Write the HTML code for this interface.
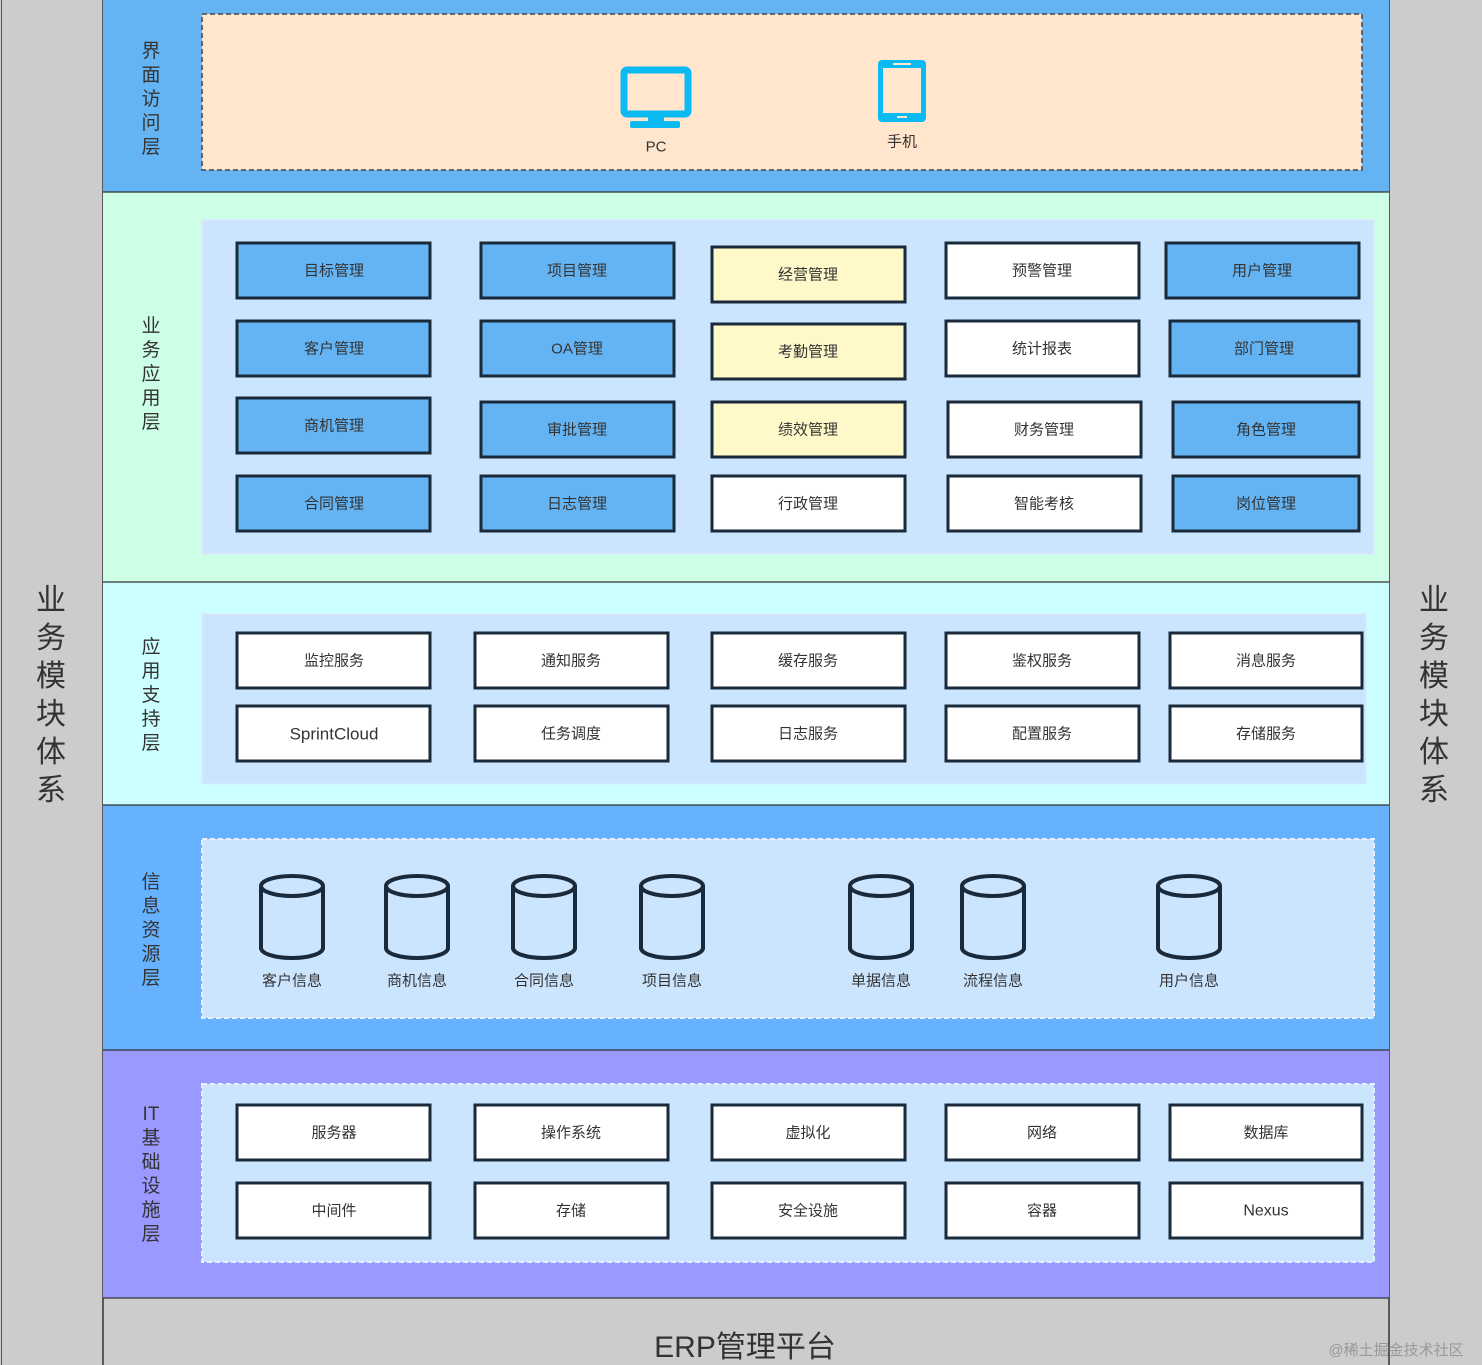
<!DOCTYPE html>
<html><head><meta charset="utf-8"><style>
html,body{margin:0;padding:0;background:#cccccc;}
svg{display:block;}
text{font-family:"Liberation Sans","Noto Sans CJK SC",sans-serif;fill:#333;}
.b{stroke:#1a2a3a;stroke-width:3;}
.t{font-size:15px;text-anchor:middle;dominant-baseline:central;}
.v{font-size:19px;text-anchor:middle;fill:#333;}
.s{font-size:30px;text-anchor:middle;fill:#333;}
.c{fill:#cce5ff;stroke:#1a2a3a;stroke-width:4;}
</style></head><body>
<svg width="1482" height="1365" viewBox="0 0 1482 1365" xmlns="http://www.w3.org/2000/svg">
<rect x="0" y="0" width="1482" height="1365" fill="#cccccc"/>
<line x1="1.5" y1="0" x2="1.5" y2="1365" stroke="#555" stroke-width="1"/>
<line x1="103" y1="0" x2="103" y2="1365" stroke="#333" stroke-width="1.5"/>
<line x1="1389" y1="0" x2="1389" y2="1365" stroke="#333" stroke-width="1.5"/>
<!-- layers -->
<rect x="103" y="0" width="1286" height="192" fill="#64b4f4"/>
<rect x="103" y="192" width="1286" height="390" fill="#ccffe6"/>
<rect x="103" y="582" width="1286" height="223" fill="#ccffff"/>
<rect x="103" y="805" width="1286" height="245" fill="#66b2ff"/>
<rect x="103" y="1050" width="1286" height="248" fill="#9999ff"/>
<g stroke="#333" stroke-width="1.2">
<line x1="103" y1="192" x2="1389" y2="192"/><line x1="103" y1="582" x2="1389" y2="582"/>
<line x1="103" y1="805" x2="1389" y2="805"/><line x1="103" y1="1050" x2="1389" y2="1050"/>
<line x1="103" y1="1298" x2="1389" y2="1298"/></g>
<!-- inner boxes -->
<rect x="202" y="14" width="1160" height="156" fill="#ffe6cc" stroke="#444" stroke-width="1.5" stroke-dasharray="5,3"/>
<rect x="202" y="220" width="1172" height="334" fill="#cce5ff" stroke="#dce9ff" stroke-width="2" stroke-dasharray="5,3"/>
<rect x="202" y="614" width="1164" height="170" fill="#cce5ff" stroke="#dce9ff" stroke-width="2" stroke-dasharray="5,3"/>
<rect x="202" y="839" width="1172" height="179" fill="#cce5ff" stroke="#e6f0ff" stroke-width="2" stroke-dasharray="5,3"/>
<rect x="202" y="1084" width="1172" height="178" fill="#cce5ff" stroke="#e6f0ff" stroke-width="2" stroke-dasharray="5,3"/>
<!-- layer labels -->
<g class="v">
<text x="151" y="57" class="v">界</text><text x="151" y="81" class="v">面</text><text x="151" y="105" class="v">访</text><text x="151" y="129" class="v">问</text><text x="151" y="153" class="v">层</text>
<text x="151" y="332" class="v">业</text><text x="151" y="356" class="v">务</text><text x="151" y="380" class="v">应</text><text x="151" y="404" class="v">用</text><text x="151" y="428" class="v">层</text>
<text x="151" y="653" class="v">应</text><text x="151" y="677" class="v">用</text><text x="151" y="701" class="v">支</text><text x="151" y="725" class="v">持</text><text x="151" y="749" class="v">层</text>
<text x="151" y="888" class="v">信</text><text x="151" y="912" class="v">息</text><text x="151" y="936" class="v">资</text><text x="151" y="960" class="v">源</text><text x="151" y="984" class="v">层</text>
<text x="151" y="1120" class="v">IT</text><text x="151" y="1144" class="v">基</text><text x="151" y="1168" class="v">础</text><text x="151" y="1192" class="v">设</text><text x="151" y="1216" class="v">施</text><text x="151" y="1240" class="v">层</text>
</g>
<!-- side -->
<g class="s">
<text x="51" y="610" class="s">业</text><text x="51" y="648" class="s">务</text><text x="51" y="686" class="s">模</text><text x="51" y="724" class="s">块</text><text x="51" y="762" class="s">体</text><text x="51" y="800" class="s">系</text>
<text x="1434" y="610" class="s">业</text><text x="1434" y="648" class="s">务</text><text x="1434" y="686" class="s">模</text><text x="1434" y="724" class="s">块</text><text x="1434" y="762" class="s">体</text><text x="1434" y="800" class="s">系</text>
</g>
<text x="745" y="1357" class="s" style="font-size:30px">ERP管理平台</text>
<text x="1396" y="1355" style="font-size:15px;text-anchor:middle;fill:#999">@稀土掘金技术社区</text>
<!-- icons -->
<rect x="624" y="70" width="64" height="44" rx="3" fill="none" stroke="#0bbaf0" stroke-width="7"/>
<rect x="648" y="114" width="16" height="8" fill="#0bbaf0"/>
<rect x="630" y="121" width="50" height="7" rx="2" fill="#0bbaf0"/>
<text x="656" y="147" class="t" style="font-size:15px">PC</text>
<rect x="878" y="60" width="48" height="62" rx="4" fill="#0bbaf0"/>
<rect x="883" y="68" width="38" height="45" fill="#ffe6cc"/>
<rect x="893" y="63" width="18" height="2" fill="#ffe6cc"/>
<rect x="897" y="116" width="10" height="2" fill="#ffe6cc"/>
<text x="902" y="142" class="t">手机</text>
<!-- business boxes -->
<g class="b">
<rect x="237" y="243" width="193" height="55" fill="#64b4f4"/>
<rect x="481" y="243" width="193" height="55" fill="#64b4f4"/>
<rect x="712" y="247" width="193" height="55" fill="#fff8c8"/>
<rect x="946" y="243" width="193" height="55" fill="#fff"/>
<rect x="1166" y="243" width="193" height="55" fill="#64b4f4"/>
<rect x="237" y="321" width="193" height="55" fill="#64b4f4"/>
<rect x="481" y="321" width="193" height="55" fill="#64b4f4"/>
<rect x="712" y="324" width="193" height="55" fill="#fff8c8"/>
<rect x="946" y="321" width="193" height="55" fill="#fff"/>
<rect x="1170" y="321" width="189" height="55" fill="#64b4f4"/>
<rect x="237" y="398" width="193" height="55" fill="#64b4f4"/>
<rect x="481" y="402" width="193" height="55" fill="#64b4f4"/>
<rect x="712" y="402" width="193" height="55" fill="#fff8c8"/>
<rect x="948" y="402" width="193" height="55" fill="#fff"/>
<rect x="1173" y="402" width="186" height="55" fill="#64b4f4"/>
<rect x="237" y="476" width="193" height="55" fill="#64b4f4"/>
<rect x="481" y="476" width="193" height="55" fill="#64b4f4"/>
<rect x="712" y="476" width="193" height="55" fill="#fff"/>
<rect x="948" y="476" width="193" height="55" fill="#fff"/>
<rect x="1173" y="476" width="186" height="55" fill="#64b4f4"/>
</g>
<g class="t">
<text x="334" y="271" class="t">目标管理</text><text x="577" y="271" class="t">项目管理</text><text x="808" y="275" class="t">经营管理</text><text x="1042" y="271" class="t">预警管理</text><text x="1262" y="271" class="t">用户管理</text>
<text x="334" y="349" class="t">客户管理</text><text x="577" y="349" class="t">OA管理</text><text x="808" y="352" class="t">考勤管理</text><text x="1042" y="349" class="t">统计报表</text><text x="1264" y="349" class="t">部门管理</text>
<text x="334" y="426" class="t">商机管理</text><text x="577" y="430" class="t">审批管理</text><text x="808" y="430" class="t">绩效管理</text><text x="1044" y="430" class="t">财务管理</text><text x="1266" y="430" class="t">角色管理</text>
<text x="334" y="504" class="t">合同管理</text><text x="577" y="504" class="t">日志管理</text><text x="808" y="504" class="t">行政管理</text><text x="1044" y="504" class="t">智能考核</text><text x="1266" y="504" class="t">岗位管理</text>
</g>
<!-- support -->
<g class="b" fill="#fff">
<rect x="237" y="633" width="193" height="55"/><rect x="475" y="633" width="193" height="55"/><rect x="712" y="633" width="193" height="55"/><rect x="946" y="633" width="193" height="55"/><rect x="1170" y="633" width="192" height="55"/>
<rect x="237" y="706" width="193" height="55"/><rect x="475" y="706" width="193" height="55"/><rect x="712" y="706" width="193" height="55"/><rect x="946" y="706" width="193" height="55"/><rect x="1170" y="706" width="192" height="55"/>
<rect x="237" y="1105" width="193" height="55"/><rect x="475" y="1105" width="193" height="55"/><rect x="712" y="1105" width="193" height="55"/><rect x="946" y="1105" width="193" height="55"/><rect x="1170" y="1105" width="192" height="55"/>
<rect x="237" y="1183" width="193" height="55"/><rect x="475" y="1183" width="193" height="55"/><rect x="712" y="1183" width="193" height="55"/><rect x="946" y="1183" width="193" height="55"/><rect x="1170" y="1183" width="192" height="55"/>
</g>
<g>
<text x="334" y="661" class="t">监控服务</text><text x="571" y="661" class="t">通知服务</text><text x="808" y="661" class="t">缓存服务</text><text x="1042" y="661" class="t">鉴权服务</text><text x="1266" y="661" class="t">消息服务</text>
<text x="334" y="734" class="t" style="font-size:17px">SprintCloud</text><text x="571" y="734" class="t">任务调度</text><text x="808" y="734" class="t">日志服务</text><text x="1042" y="734" class="t">配置服务</text><text x="1266" y="734" class="t">存储服务</text>
<text x="334" y="1133" class="t">服务器</text><text x="571" y="1133" class="t">操作系统</text><text x="808" y="1133" class="t">虚拟化</text><text x="1042" y="1133" class="t">网络</text><text x="1266" y="1133" class="t">数据库</text>
<text x="334" y="1211" class="t">中间件</text><text x="571" y="1211" class="t">存储</text><text x="808" y="1211" class="t">安全设施</text><text x="1042" y="1211" class="t">容器</text><text x="1266" y="1211" class="t" style="font-size:16px">Nexus</text>
</g>
<!-- cylinders -->
<defs><g id="cyl">
<path class="c" d="M-31,-31 L-31,31 A31,10 0 0 0 31,31 L31,-31"/>
<ellipse class="c" cx="0" cy="-31" rx="31" ry="10"/>
</g></defs>
<use href="#cyl" x="292" y="917"/><use href="#cyl" x="417" y="917"/><use href="#cyl" x="544" y="917"/><use href="#cyl" x="672" y="917"/>
<use href="#cyl" x="881" y="917"/><use href="#cyl" x="993" y="917"/><use href="#cyl" x="1189" y="917"/>
<text x="292" y="981" class="t">客户信息</text><text x="417" y="981" class="t">商机信息</text><text x="544" y="981" class="t">合同信息</text><text x="672" y="981" class="t">项目信息</text>
<text x="881" y="981" class="t">单据信息</text><text x="993" y="981" class="t">流程信息</text><text x="1189" y="981" class="t">用户信息</text>
</svg>
</body></html>
